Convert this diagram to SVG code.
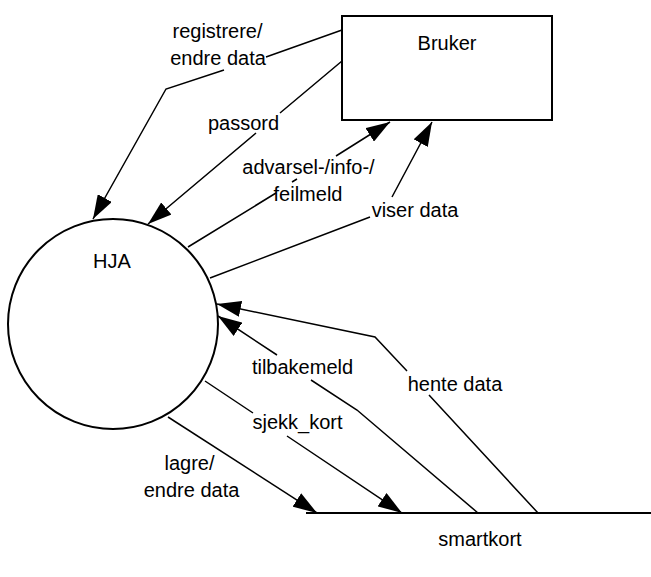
<svg xmlns="http://www.w3.org/2000/svg" width="651" height="577" viewBox="0 0 651 577">
  <style>
    .lbl { font-family: "Liberation Sans", Arial, sans-serif; font-size: 20px; fill: #000; text-anchor: middle; }
    .shape { fill: #fff; stroke: #000; stroke-width: 2; }
    .conn { fill: none; stroke: #000; stroke-width: 1.5; }
    .arr { marker-end: url(#ah); }
  </style>
  <defs>
    <marker id="ah" markerUnits="userSpaceOnUse" markerWidth="24" markerHeight="16" refX="24" refY="8" orient="auto" viewBox="0 0 24 16">
      <path d="M0,0 L24,8 L0,16 Z" fill="#000"/>
    </marker>
  </defs>
  <rect width="651" height="577" fill="#fff"/>

  <g id="bruker">
    <rect class="shape" x="342" y="16" width="210" height="104"/>
    <text class="lbl" x="447" y="50">Bruker</text>
  </g>

  <g id="hja">
    <circle class="shape" cx="113" cy="324" r="105"/>
    <text class="lbl" x="112" y="268">HJA</text>
  </g>

  <g id="smartkort">
    <line x1="306" y1="513" x2="651" y2="513" stroke="#000" stroke-width="2"/>
    <text class="lbl" x="480" y="546">smartkort</text>
  </g>

  <g id="connectors">
    <path id="c-registrere" class="conn arr" d="M342,30 L266,57 M224,70 L166,89 L93,219"/>
    <path id="c-passord" class="conn arr" d="M342,61 L280,113 M256,133 L148,224"/>
    <path id="c-advarsel" class="conn arr" d="M188,247 L276,193 M292,182 L297,179 M336,156 L390,122"/>
    <path id="c-viser" class="conn arr" d="M210,278 L370,217 M392,197 L432,122"/>
    <path id="c-tilbakemeld" class="conn arr" d="M478,513 L357,410 L311,380 M277,355 L218,316"/>
    <path id="c-hente" class="conn arr" d="M538,513 L429,395 M407,371 L375,337 L217,304"/>
    <path id="c-sjekk" class="conn arr" d="M205,381 L253,413 M287,436 L402,513"/>
    <path id="c-lagre" class="conn arr" d="M168,417 L317,513"/>

    <text class="lbl" x="217.5" y="37.5">registrere/</text>
    <text class="lbl" x="218" y="65">endre data</text>
    <text class="lbl" x="243.5" y="130">passord</text>
    <text class="lbl" x="308.5" y="174">advarsel-/info-/</text>
    <text class="lbl" x="308" y="200.5">feilmeld</text>
    <text class="lbl" x="415" y="216.5">viser data</text>
    <text class="lbl" x="302.5" y="374">tilbakemeld</text>
    <text class="lbl" x="455" y="391">hente data</text>
    <text class="lbl" x="297.5" y="429">sjekk_kort</text>
    <text class="lbl" x="189.5" y="470">lagre/</text>
    <text class="lbl" x="191.5" y="497">endre data</text>
  </g>
</svg>
